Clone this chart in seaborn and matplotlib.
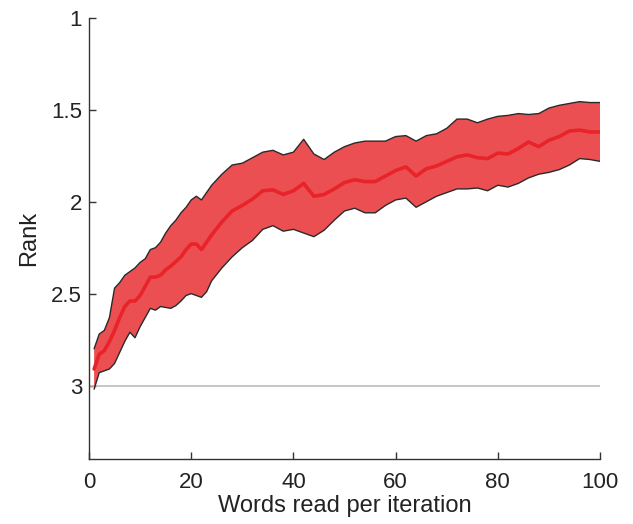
import numpy as np
import pandas as pd
import matplotlib
matplotlib.use("Agg")
import matplotlib.pyplot as plt
import seaborn as sns

words = [1, 2, 3, 4, 5, 6, 7, 8, 9, 10, 11, 12, 13, 14, 15, 16, 17, 18, 19, 20,
         21, 22, 23, 24, 26, 28, 30, 32, 34, 36, 38, 40, 42, 44, 46, 48, 50, 52,
         54, 56, 58, 60, 62, 64, 66, 68, 70, 72, 74, 76, 78, 80, 82, 84, 86, 88,
         90, 92, 94, 96, 98, 100]

rank_mean = [2.91, 2.83, 2.81, 2.76, 2.70, 2.63, 2.57, 2.54, 2.54, 2.51, 2.46, 2.41,
             2.41, 2.40, 2.37, 2.35, 2.325, 2.30, 2.26, 2.23, 2.23, 2.26, 2.22, 2.18,
             2.11, 2.05, 2.02, 1.985, 1.94, 1.935, 1.96, 1.94, 1.90, 1.97, 1.96, 1.93,
             1.895, 1.88, 1.89, 1.89, 1.86, 1.83, 1.81, 1.86, 1.82, 1.805, 1.78, 1.755,
             1.745, 1.76, 1.765, 1.735, 1.74, 1.71, 1.675, 1.70, 1.665, 1.645, 1.615,
             1.61, 1.62, 1.62]

rank_upper = [2.80, 2.72, 2.70, 2.63, 2.47, 2.44, 2.40, 2.38, 2.36, 2.33, 2.31, 2.26,
              2.25, 2.22, 2.17, 2.13, 2.10, 2.06, 2.03, 1.99, 1.97, 1.99, 1.95, 1.91,
              1.85, 1.80, 1.79, 1.76, 1.73, 1.72, 1.745, 1.73, 1.66, 1.74, 1.77, 1.73,
              1.70, 1.68, 1.67, 1.67, 1.67, 1.645, 1.64, 1.67, 1.64, 1.63, 1.60, 1.55,
              1.55, 1.57, 1.55, 1.535, 1.53, 1.52, 1.525, 1.52, 1.49, 1.475, 1.465,
              1.455, 1.46, 1.46]

rank_lower = [3.02, 2.93, 2.92, 2.91, 2.88, 2.82, 2.76, 2.71, 2.74, 2.68, 2.63, 2.58,
              2.59, 2.57, 2.575, 2.58, 2.565, 2.54, 2.51, 2.50, 2.51, 2.52, 2.49, 2.43,
              2.36, 2.30, 2.25, 2.21, 2.15, 2.13, 2.16, 2.15, 2.17, 2.19, 2.155, 2.10,
              2.05, 2.035, 2.06, 2.06, 2.02, 1.99, 1.98, 2.03, 2.00, 1.97, 1.95, 1.93,
              1.93, 1.925, 1.94, 1.91, 1.92, 1.90, 1.87, 1.85, 1.84, 1.825, 1.80,
              1.765, 1.77, 1.78]

chance_rank = 3.0
x_ticks = [0, 20, 40, 60, 80, 100]
y_ticks = [1, 1.5, 2, 2.5, 3]
y_tick_labels = ["1", "1.5", "2", "2.5", "3"]

sns.set_style("ticks")
plt.rcParams["font.family"] = ["Liberation Sans", "DejaVu Sans"]

df = pd.DataFrame({"words": words, "mean": rank_mean,
                   "upper": rank_upper, "lower": rank_lower})

fig = plt.figure(figsize=(6.33, 5.24), dpi=100)
ax = fig.add_axes([0.1406, 0.124, 0.8074, 0.8416])

ax.axhline(chance_rank, xmin=0, xmax=1, color="#bdbdbd", lw=1.2, zorder=1)
ax.fill_between(df["words"], df["lower"], df["upper"], facecolor="#ec4f52",
                edgecolor="none", alpha=1.0, zorder=2)
ax.plot(df["words"], df["upper"], color="#2a2a2a", lw=1.0, zorder=3)
ax.plot(df["words"], df["lower"], color="#2a2a2a", lw=1.0, zorder=3)
sns.lineplot(data=df, x="words", y="mean", color="#e8232a", lw=2.6, ax=ax,
             zorder=4)

ax.set_xlim(0, 100)
ax.set_ylim(3.4, 1.0)
ax.set_xticks(x_ticks)
ax.set_xticklabels([str(t) for t in x_ticks])
ax.set_yticks(y_ticks)
ax.set_yticklabels(y_tick_labels)
ax.tick_params(direction="in", length=5, width=1, color="#333333",
               labelsize=16, labelcolor="#222222")
ax.tick_params(axis="y", pad=5)
ax.tick_params(axis="x", pad=9)
ax.set_xlabel("Words read per iteration", fontsize=17, color="#222222",
              labelpad=2)
ax.set_ylabel("Rank", fontsize=17, color="#222222", labelpad=8)
for s in ["top", "right"]:
    ax.spines[s].set_visible(False)
for s in ["left", "bottom"]:
    ax.spines[s].set_color("#333333")
    ax.spines[s].set_linewidth(1.0)

fig.savefig("out.png", dpi=100)
